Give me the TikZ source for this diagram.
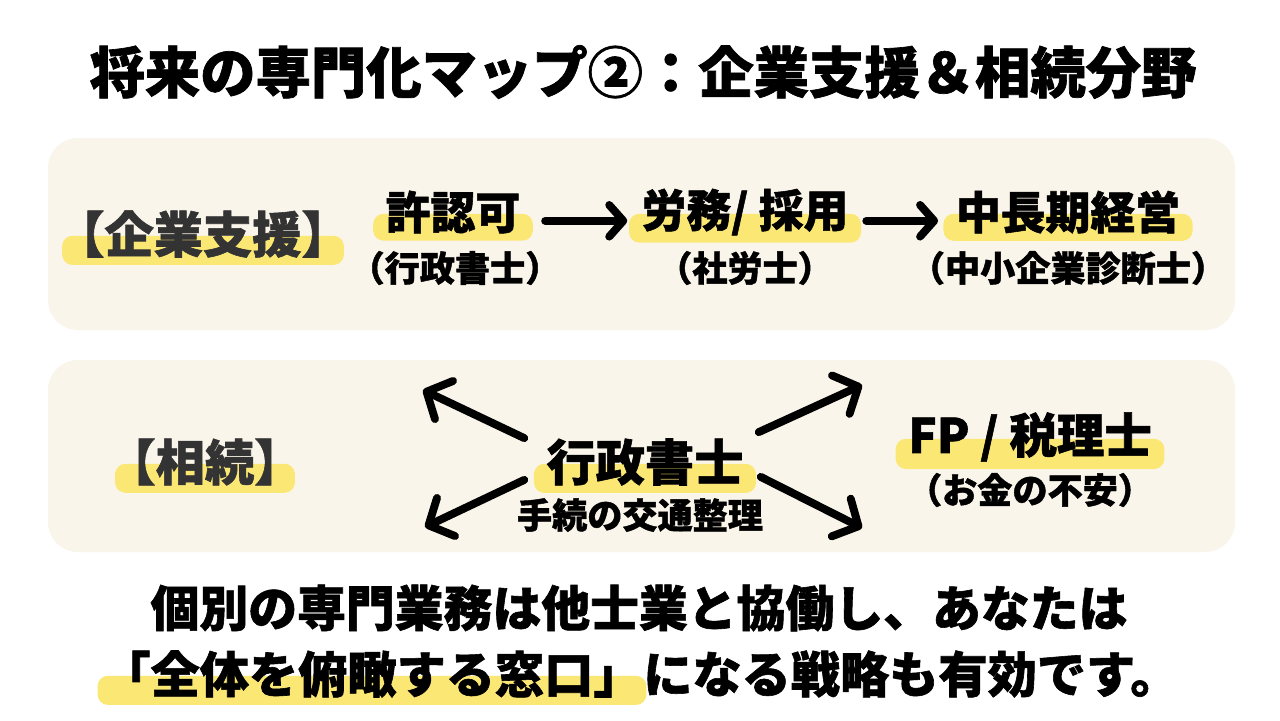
\documentclass[tikz,border=0pt]{standalone}
\usepackage{fontspec}
\setmainfont{Noto Sans CJK JP}[BoldFont={Noto Sans CJK JP Black}, BoldFeatures={FakeBold=1.2}]
\usetikzlibrary{positioning, calc, arrows.meta}
\definecolor{panelcream}{HTML}{FAF5EA}
\definecolor{hlyellow}{HTML}{FBE774}
\definecolor{secgray}{HTML}{333333}
\pgfdeclarelayer{panels}
\pgfdeclarelayer{marker}
\pgfsetlayers{panels,marker,main}
% yellow marker under the lower half of a node
\newcommand{\hlite}[2][7pt]{\begin{pgfonlayer}{marker}\fill[hl] ([xshift=-#1,yshift=-1pt]#2.west) rectangle ([xshift=#1,yshift=-4pt]#2.south east);\end{pgfonlayer}}

\begin{document}
\begin{tikzpicture}[x=0.02cm, y=-0.02cm,
		every node/.style={inner sep=0pt, font=\bfseries},
		hl/.style={fill=hlyellow, rounded corners=6pt},
		panel/.style={fill=panelcream, rounded corners=17pt},
		head/.style={font=\fontsize{25.5}{30}\selectfont\bfseries},
		sub/.style={font=\fontsize{20}{24}\selectfont\bfseries},
		sec/.style={font=\fontsize{28}{33}\selectfont\bfseries, text=secgray},
		note/.style={font=\fontsize{28}{33}\selectfont\bfseries},
		arr/.style={line width=4.5pt, line cap=round, -{Straight Barb[length=8pt, width=18pt, line cap=round, line join=round]}},
		darr/.style={line width=4.5pt, line cap=round, -{Straight Barb[length=11pt, width=24pt, line cap=round, line join=round]}}]
	\useasboundingbox (0,0) rectangle (1280,720);
	\begin{pgfonlayer}{panels}
		\fill[white] (0,0) rectangle (1280,720);
		\fill[panel] (48,138) rectangle (1235,330);
		\fill[panel] (48,360) rectangle (1235,552);
	\end{pgfonlayer}

	\node[font=\fontsize{31.5}{36}\selectfont\bfseries] (title) at (643,72) {将来の専門化マップ②：企業支援＆相続分野};

	% 企業支援
	\node[sec] (kigyo) at (203,234) {【企業支援】};
	\node[head] (kyoninka) at (453,212) {許認可};
	\node[sub] (gyoseiA) at (455,268) {（行政書士）};
	\node[head] (romu) at (745,212) {労務/ 採用};
	\node[sub] (sharoshi) at (745,268) {（社労士）};
	\node[head] (keiei) at (1068,212) {中長期経営};
	\node[sub] (shindan) at (1068,268) {（中小企業診断士）};
	\draw[arr, shorten <=14pt, shorten >=8pt] ([yshift=-5pt]kyoninka.east) -- ([yshift=-5pt]romu.west);
	\draw[arr, shorten <=10pt, shorten >=10pt] ([yshift=-5pt]romu.east) -- ([yshift=-5pt]keiei.west);
	\hlite[-4pt]{kigyo}
	\hlite{kyoninka}
	\hlite{romu}
	\hlite{keiei}

	% 相続
	\node[sec] (sozoku) at (205,462) {【相続】};
	\node[font=\fontsize{28}{33}\selectfont\bfseries] (gyoseiB) at (645,462) {行政書士};
	\node[sub] (kotsu) at (640,515) {手続の交通整理};
	\node[font=\fontsize{27}{32}\selectfont\bfseries] (fp) at (1030,437) {FP / 税理士};
	\node[sub] (okane) at (1030,490) {（お金の不安）};
	\coordinate (tipUL) at (423,390);
	\coordinate (tipDL) at (425,527);
	\coordinate (tipUR) at (862,385);
	\coordinate (tipDR) at (862,528);
	\draw[darr] ($(gyoseiB.north west)+(-22,0)$) -- (tipUL);
	\draw[darr] ($(gyoseiB.south west)+(-22,-6)$) -- (tipDL);
	\draw[darr] ($(gyoseiB.north east)+(15,-6)$) -- (tipUR);
	\draw[darr] ($(gyoseiB.south east)+(17,-9)$) -- (tipDR);
	\hlite[-5pt]{sozoku}
	\hlite{gyoseiB}
	\hlite{fp}

	% まとめ
	\node[note, font=\fontsize{27.8}{33}\selectfont\bfseries] (msgA) at (639,608) {個別の専門業務は他士業と協働し、あなたは};
	\node[note] (msgB) at (372,674) {「全体を俯瞰する窓口」};
	\node[note, right=0pt of msgB] (msgC) {になる戦略も有効です。};
	\hlite[2pt]{msgB}
\end{tikzpicture}
\end{document}
